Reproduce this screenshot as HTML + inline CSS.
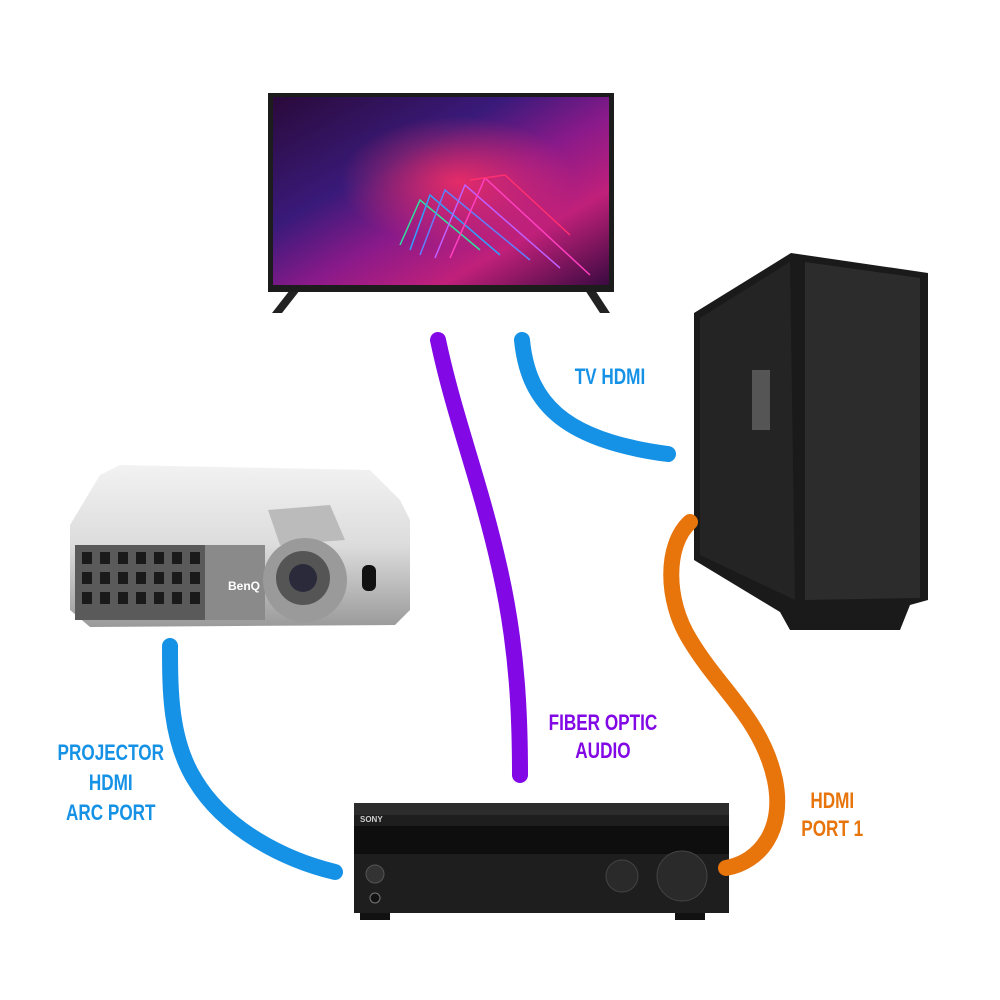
<!DOCTYPE html>
<html><head><meta charset="utf-8"><style>
html,body{margin:0;padding:0;background:#fff;width:1000px;height:1000px;overflow:hidden}
text{font-family:"Liberation Sans",sans-serif;font-weight:bold}
</style></head><body>
<svg width="1000" height="1000" viewBox="0 0 1000 1000" xmlns="http://www.w3.org/2000/svg">
<defs>
<linearGradient id="scr" x1="0" y1="0" x2="1" y2="1">
<stop offset="0" stop-color="#2a0a3a"/><stop offset="0.35" stop-color="#3a1a7a"/>
<stop offset="0.55" stop-color="#8a1a8a"/><stop offset="0.75" stop-color="#c0207a"/><stop offset="1" stop-color="#3a0a40"/>
</linearGradient>
<radialGradient id="glow" cx="0.55" cy="0.45" r="0.35">
<stop offset="0" stop-color="#ff3060" stop-opacity="0.8"/><stop offset="1" stop-color="#ff3060" stop-opacity="0"/>
</radialGradient>
<linearGradient id="proj" x1="0" y1="0" x2="0" y2="1">
<stop offset="0" stop-color="#f2f2f2"/><stop offset="0.5" stop-color="#dcdcdc"/><stop offset="1" stop-color="#9a9a9a"/>
</linearGradient>
</defs>
<!-- TV -->
<polygon points="290,290 300,290 282,313 272,313" fill="#222"/>
<polygon points="585,290 595,290 610,313 600,313" fill="#222"/>
<rect x="268" y="93" width="346" height="199" fill="#1c1c1c"/>
<rect x="273" y="97" width="336" height="188" fill="url(#scr)"/>
<rect x="273" y="97" width="336" height="188" fill="url(#glow)"/>
<g stroke-width="1.5" fill="none">
<path d="M400,245 L420,200 L480,250" stroke="#30e0a0"/>
<path d="M410,250 L430,195 L500,255" stroke="#30a0ff"/>
<path d="M420,255 L445,190 L530,260" stroke="#6080ff"/>
<path d="M435,258 L465,185 L560,268" stroke="#c060ff"/>
<path d="M450,258 L485,178 L590,275" stroke="#ff40c0"/>
<path d="M470,180 L505,175 L570,235" stroke="#ff3070"/>
</g>
<!-- PC -->
<polygon points="694,313 791,253 928,273 928,600 910,605 900,630 790,630 780,612 694,560" fill="#1a1a1a"/>
<polygon points="805,262 920,278 920,598 805,600" fill="#2c2c2c"/>
<polygon points="700,318 790,262 795,600 700,555" fill="#242424"/>
<rect x="752" y="370" width="18" height="60" fill="#555"/>
<!-- Projector -->
<path d="M70,525 L100,475 L120,465 L370,470 L400,500 L410,520 L410,610 L395,625 L90,627 L70,610 Z" fill="url(#proj)"/>
<rect x="75" y="545" width="130" height="75" fill="#5a5a5a"/>
<g fill="#1a1a1a">
<rect x="82" y="552" width="10" height="12"/><rect x="100" y="552" width="10" height="12"/><rect x="118" y="552" width="10" height="12"/><rect x="136" y="552" width="10" height="12"/><rect x="154" y="552" width="10" height="12"/><rect x="172" y="552" width="10" height="12"/><rect x="190" y="552" width="10" height="12"/>
<rect x="82" y="572" width="10" height="12"/><rect x="100" y="572" width="10" height="12"/><rect x="118" y="572" width="10" height="12"/><rect x="136" y="572" width="10" height="12"/><rect x="154" y="572" width="10" height="12"/><rect x="172" y="572" width="10" height="12"/><rect x="190" y="572" width="10" height="12"/>
<rect x="82" y="592" width="10" height="12"/><rect x="100" y="592" width="10" height="12"/><rect x="118" y="592" width="10" height="12"/><rect x="136" y="592" width="10" height="12"/><rect x="154" y="592" width="10" height="12"/><rect x="172" y="592" width="10" height="12"/><rect x="190" y="592" width="10" height="12"/>
</g>
<rect x="205" y="545" width="60" height="75" fill="#8a8a8a"/>
<polygon points="268,510 330,505 345,540 280,545" fill="#bbb"/>
<circle cx="305" cy="580" r="42" fill="#9a9a9a"/>
<circle cx="303" cy="578" r="27" fill="#555"/>
<circle cx="303" cy="578" r="14" fill="#2a2a3a"/>
<rect x="362" y="565" width="14" height="26" rx="6" fill="#111"/>
<text x="228" y="590" font-size="12" fill="#fff">BenQ</text>
<!-- Receiver -->
<rect x="360" y="910" width="30" height="10" fill="#111"/><rect x="675" y="910" width="30" height="10" fill="#111"/>
<rect x="354" y="803" width="375" height="110" fill="#1e1e1e"/>
<rect x="354" y="803" width="375" height="12" fill="#2c2c2c"/>
<rect x="354" y="826" width="375" height="28" fill="#0e0e0e"/>
<text x="360" y="822" font-size="8" fill="#ccc">SONY</text>
<circle cx="375" cy="874" r="9" fill="#333" stroke="#555"/>
<circle cx="375" cy="898" r="5" fill="#111" stroke="#777"/>
<circle cx="622" cy="876" r="16" fill="#2a2a2a" stroke="#444"/>
<circle cx="682" cy="876" r="25" fill="#2a2a2a" stroke="#444"/>
<!-- Cables -->
<g fill="none" stroke-linecap="round" stroke-width="16">
<path d="M438,340 C455,420 480,480 500,570 C518,650 520,720 520,775" stroke="#8208e6"/>
<path d="M522,340 C528,400 560,440 668,454" stroke="#1592e6"/>
<path d="M170,646 C170,690 170,740 195,780 C225,830 285,860 335,872" stroke="#1592e6"/>
<path d="M690,522 C665,545 665,600 690,640 C720,690 762,720 775,780 C785,830 760,862 726,868" stroke="#e8740c"/>
</g>
<!-- Labels -->
<g font-size="22" text-anchor="middle" transform="scale(0.78,1)">
<text x="782" y="384" fill="#1592e6">TV HDMI</text>
<text x="773" y="730" fill="#8208e6">FIBER OPTIC</text>
<text x="773" y="758" fill="#8208e6">AUDIO</text>
<text x="142" y="760" fill="#1592e6">PROJECTOR</text>
<text x="142" y="790" fill="#1592e6">HDMI</text>
<text x="142" y="820" fill="#1592e6">ARC PORT</text>
<text x="1067" y="808" fill="#e8740c">HDMI</text>
<text x="1067" y="836" fill="#e8740c">PORT 1</text>
</g>
</svg>
</body></html>
